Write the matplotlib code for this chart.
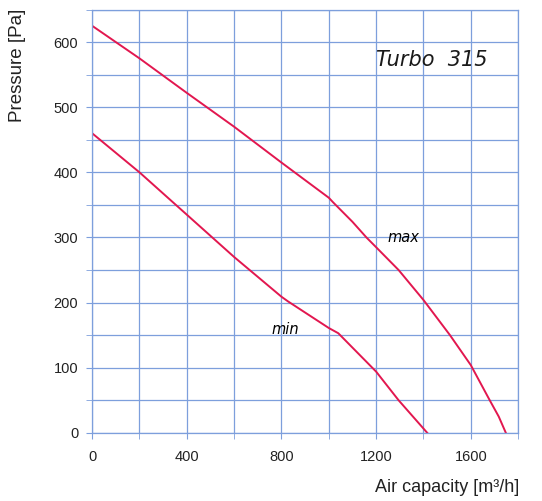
import matplotlib.pyplot as plt
from matplotlib.ticker import MultipleLocator

plt.rcParams['font.family'] = ['Liberation Sans', 'DejaVu Sans']

# Datos
caudal_max = [0, 200, 400, 600, 800, 1000, 1018, 1100, 1159, 1200, 1295, 1400, 1512, 1600, 1680, 1718, 1748]
presion_max = [625, 575, 522, 470, 415, 361, 354, 324, 300, 285, 250, 204, 150, 104, 50, 25, 0]

caudal_min = [0, 200, 400, 600, 800, 827, 1000, 1040, 1200, 1295, 1416]
presion_min = [460, 400, 335, 270, 209, 202, 161, 153, 94, 50, 0]

rojo = "#e2174f"
azul = "#7d9fdc"

fig = plt.figure(figsize=(5.42, 5.01), dpi=100)
ax = fig.add_axes([0.170, 0.136, 0.786, 0.845])

ax.plot(caudal_max, presion_max, color=rojo, linewidth=1.4)
ax.plot(caudal_min, presion_min, color=rojo, linewidth=1.4)

ax.set_xlim(0, 1800)
ax.set_ylim(0, 650)
ax.xaxis.set_major_locator(MultipleLocator(400))
ax.xaxis.set_minor_locator(MultipleLocator(200))
ax.yaxis.set_major_locator(MultipleLocator(100))
ax.yaxis.set_minor_locator(MultipleLocator(50))
ax.grid(True, which="both", color=azul, linewidth=0.9)
ax.set_axisbelow(True)
for s in ax.spines.values():
    s.set_color(azul)
    s.set_linewidth(0.9)
ax.tick_params(which="both", color=azul, length=4, labelsize=10.5, labelcolor="#222222")
ax.tick_params(axis="x", pad=8)
ax.tick_params(axis="y", pad=6)

ax.text(1435, 573, "Turbo  315", fontsize=15, style="italic", ha="center", va="center",
        family="DejaVu Sans", color="#1a1a1a")
ax.text(1317, 300, "max", fontsize=10.5, style="italic", ha="center", va="center", family="DejaVu Sans")
ax.text(818, 158, "min", fontsize=10.5, style="italic", ha="center", va="center", family="DejaVu Sans")

fig.text(0.033, 0.982, "Pressure [Pa]", rotation=90, ha="center", va="top", fontsize=13.5, color="#222222")
fig.text(0.958, 0.026, "Air capacity [m³/h]", ha="right", va="center", fontsize=13, color="#222222")

plt.savefig("out.png", dpi=100)
